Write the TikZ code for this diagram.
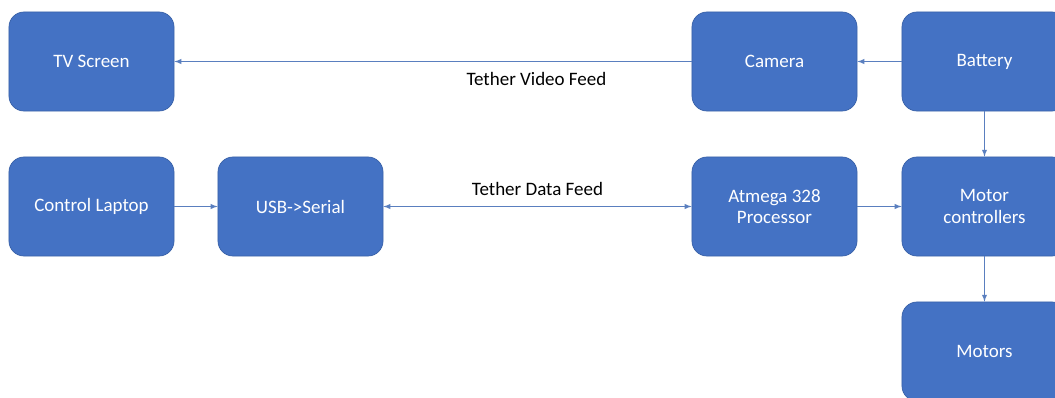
\documentclass[tikz,border=0pt]{standalone}
\usepackage{fontspec}
\setmainfont{Carlito}
\definecolor{boxblue}{HTML}{4472C4}
\definecolor{boxedge}{HTML}{3A62A8}
\definecolor{linkblue}{HTML}{5A7FBF}
\begin{document}
\begin{tikzpicture}[x=0.025cm,y=-0.025cm,
  block/.style={draw=boxedge,line width=0.5pt,fill=boxblue,rounded corners=0.375cm,
    minimum width=4.125cm,minimum height=2.475cm,text=white,align=center,
    font=\fontsize{13.5}{15.5}\selectfont},
  link/.style={-latex,draw=linkblue,line width=0.7pt},
  feed/.style={font=\fontsize{13.5}{15.5}\selectfont}]
\useasboundingbox(0,0)rectangle(1055,397);
\clip(0,0)rectangle(1055,397);
\node[block](tv)at(91.5,61.5){TV Screen};
\node[block](cam)at(774.5,61.5){Camera};
\node[block](bat)at(984.5,61.5){Battery};
\node[block](lap)at(91.5,206.5){Control Laptop};
\node[block](usb)at(300.5,206.5){USB->Serial};
\node[block](atm)at(774.5,206.5){Atmega 328\\Processor};
\node[block](mc)at(984.5,206.5){Motor\\controllers};
\node[block](mot)at(984.5,351.5){Motors};
\draw[link](cam)--(tv)node[pos=0.3,below=0.15cm,feed,text=black]{Tether Video Feed};
\draw[link](bat)--(cam);
\draw[link](bat)--(mc);
\draw[link](lap)--(usb);
\draw[link,latex-latex](usb)--(atm)node[pos=0.5,above=0.15cm,feed,text=black]{Tether Data Feed};
\draw[link](atm)--(mc);
\draw[link](mc)--(mot);
\end{tikzpicture}
\end{document}
